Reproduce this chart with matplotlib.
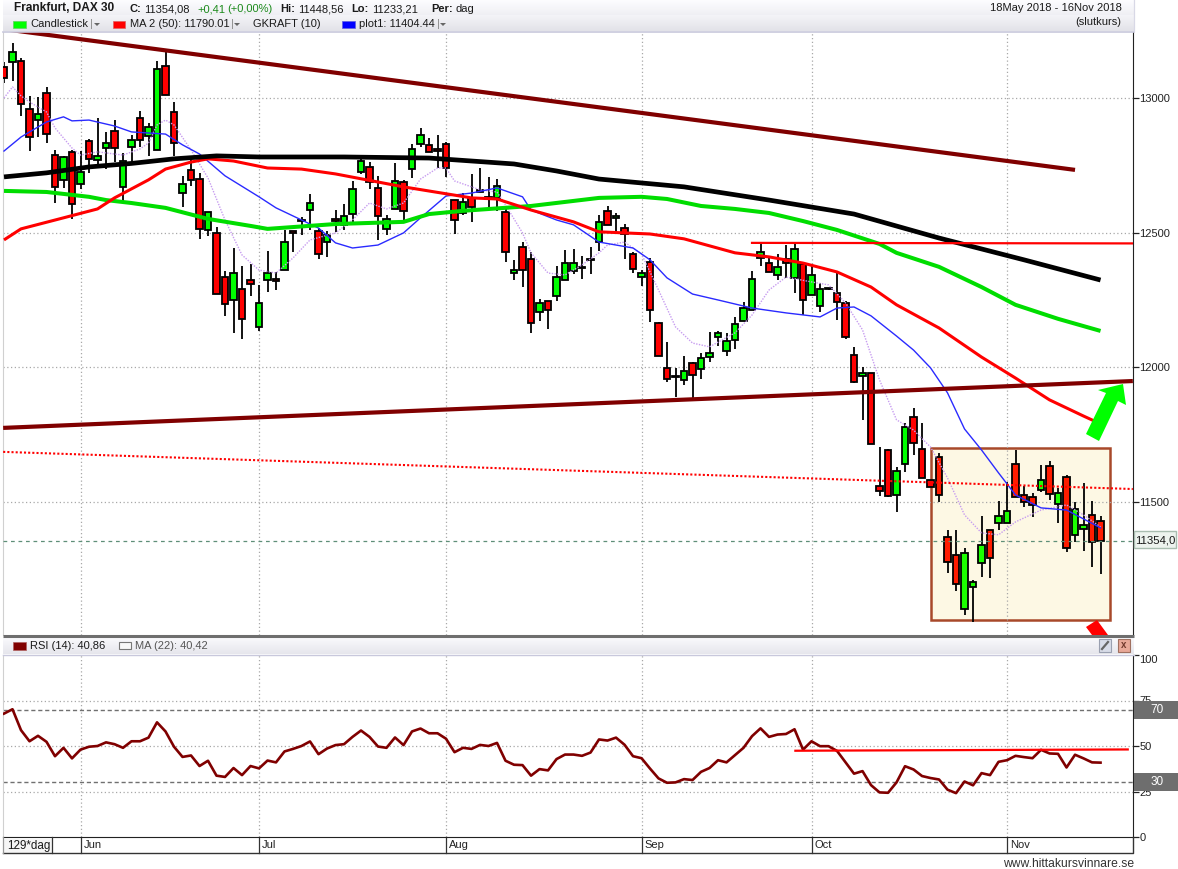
import numpy as np
import matplotlib
matplotlib.use("Agg")
import matplotlib.pyplot as plt
from matplotlib.patches import Polygon, Rectangle

plt.rcParams['font.family'] = ['Liberation Sans', 'DejaVu Sans']

# ---------- data ----------
OPEN = [13115,13134,13137,12959,12918,13019,12788,12696,12800,12681,12840,12770,12814,12878,12670,12818,12926,12859,12807,13119,
        12948,12647,12733,12699,12510,12499,12336,12250,12291,12324,12150,12324,12328,12361,12506,12547,12584,12506,12465,12551,
        12529,12569,12725,12744,12666,12514,12588,12688,12736,12829,12826,12811,12829,12621,12573,12629,12659,12625,12629,12577,
        12350,12447,12402,12206,12246,12265,12324,12358,12369,12399,12465,12580,12555,12517,12421,12336,12391,12165,11998,11964,
        11953,12016,11994,12038,12113,12061,12102,12172,12213,12406,12387,12343,12402,12332,12384,12269,12228,12291,12276,12239,
        12046,11968,11979,11560,11693,11526,11641,11816,11697,11582,11667,11370,11303,11103,11184,11274,11396,11422,11422,11641,
        11526,11519,11545,11634,11493,11593,11378,11400,11452,11429]
HIGH = [13134,13204,13149,13007,13004,13041,12807,12785,12807,12803,12848,12926,12874,12918,12796,12863,12952,12907,13137,13171,
        12985,12711,12770,12722,12577,12521,12358,12443,12376,12384,12306,12432,12354,12510,12506,12558,12644,12517,12506,12584,
        12607,12692,12788,12762,12711,12566,12759,12696,12829,12889,12852,12863,12837,12621,12647,12718,12740,12707,12699,12592,
        12399,12465,12428,12254,12246,12376,12436,12439,12414,12447,12566,12599,12573,12532,12428,12361,12406,12168,12094,11998,
        12042,12020,12053,12131,12135,12128,12187,12243,12358,12458,12410,12421,12454,12458,12391,12376,12313,12295,12350,12246,
        12076,12001,11979,11704,11697,11630,11793,11849,11793,11582,11682,11396,11396,11329,11210,11448,11396,11504,11574,11693,
        11560,11533,11637,11652,11552,11600,11500,11571,11504,11449]
LOW = [13056,13063,12933,12803,12855,12833,12610,12666,12551,12662,12722,12755,12736,12762,12614,12759,12818,12785,12807,13011,
       12785,12595,12673,12477,12488,12272,12191,12128,12105,12265,12135,12280,12287,12361,12428,12491,12510,12402,12410,12503,
       12510,12536,12718,12662,12473,12491,12588,12547,12703,12818,12800,12740,12707,12495,12566,12540,12651,12595,12581,12391,
       12324,12298,12128,12172,12142,12246,12324,12347,12328,12347,12432,12529,12503,12402,12350,12302,12168,12042,11946,11890,
       11934,11879,11957,12020,12079,12042,12068,12172,12213,12376,12354,12324,12332,12276,12194,12269,12206,12287,12176,12105,
       11942,11805,11715,11522,11519,11463,11611,11675,11589,11556,11500,11236,11170,11080,11054,11222,11218,11396,11422,11519,
       11481,11444,11537,11507,11422,11314,11352,11318,11259,11233]
CLOSE = [13074,13171,12978,12855,12941,12866,12670,12781,12607,12725,12774,12785,12833,12814,12766,12844,12844,12892,13108,13011,
         12833,12681,12696,12514,12577,12272,12235,12350,12180,12309,12239,12350,12321,12465,12499,12543,12610,12421,12491,12543,
         12562,12662,12766,12688,12562,12551,12692,12580,12811,12863,12800,12803,12740,12547,12614,12595,12651,12633,12673,12428,
         12361,12361,12165,12239,12213,12336,12387,12387,12369,12399,12540,12529,12562,12495,12365,12350,12213,12042,11957,11964,
         11986,11972,12035,12053,12128,12098,12161,12220,12328,12428,12354,12373,12387,12439,12250,12343,12291,12291,12243,12113,
         11946,11979,11715,11541,11522,11615,11778,11719,11589,11556,11526,11277,11196,11311,11203,11340,11292,11448,11467,11519,
         11500,11489,11582,11530,11533,11329,11474,11415,11352,11354]

MA200_IDX = [0,5,10,15,20,25,30,40,50,55,60,65,70,80,90,100,110,120,129]
MA200_VAL = [12707,12722,12744,12757,12774,12785,12781,12781,12777,12766,12755,12729,12699,12670,12621,12569,12480,12399,12324]
MA100_IDX = [0,5,10,12,15,19,24,29,31,39,47,50,54,62,70,75,78,82,86,90,94,98,103,105,110,115,119,124,129]
MA100_VAL = [12655,12651,12633,12621,12610,12592,12551,12525,12514,12532,12540,12569,12581,12599,12629,12633,12625,12599,12588,12573,12543,12510,12458,12425,12373,12298,12232,12180,12135]
MA50_IDX = [0,2,7,11,13,17,19,22,24,27,31,35,39,47,55,58,62,67,70,76,80,86,90,94,98,102,105,110,115,119,123,127,129]
MA50_VAL = [12473,12514,12555,12588,12629,12696,12736,12762,12774,12766,12740,12736,12718,12670,12629,12625,12584,12540,12503,12495,12477,12425,12410,12387,12354,12298,12232,12146,12038,11960,11879,11819,11790]
PLOT1_IDX = [0,2,5,7,8,10,13,15,19,21,23,26,30,32,34,37,39,41,44,47,49,52,55,58,61,62,65,67,70,74,76,78,81,84,88,92,96,98,100,102,105,107,109,111,113,115,117,119,122,125,129]
PLOT1_VAL = [12803,12855,12911,12930,12915,12918,12896,12874,12866,12826,12792,12711,12633,12592,12562,12517,12462,12443,12454,12499,12555,12636,12647,12666,12633,12584,12547,12529,12465,12443,12399,12332,12272,12250,12220,12202,12187,12220,12224,12191,12116,12064,11998,11905,11771,11693,11608,11526,11478,11470,11404]
GKRAFT_IDX = [0,1,2,3,5,6,8,9,11,14,16,17,18,19,20,22,24,26,28,30,32,34,36,39,41,43,45,47,49,51,52,53,56,58,59,61,62,64,66,68,70,71,73,75,77,79,81,83,86,88,90,92,95,97,99,101,103,105,107,109,111,113,115,117,119,122,125,127,129]
GKRAFT_VAL = [13000,13041,13008,12985,12948,12889,12814,12788,12800,12788,12811,12833,12900,12918,12900,12807,12703,12547,12417,12361,12350,12406,12473,12499,12547,12610,12588,12610,12699,12740,12740,12692,12659,12651,12603,12499,12425,12350,12343,12380,12425,12454,12465,12421,12287,12150,12090,12076,12128,12194,12287,12335,12317,12306,12239,12139,11953,11805,11767,11704,11589,11452,11385,11378,11426,11470,11489,11452,11407]
RSI = [67.8,70.2,58.7,52.6,55.6,52.3,44.4,49,43.2,48,49.6,50,52,51,49,52.6,52.6,54.6,63,58,
       49.6,44,44.8,39,41.9,33.7,33,37.9,34,39,37.7,42,41,47,48.4,50,52.5,45.5,48.6,50.5,
       51,55,58.5,55,49.7,49,54.7,50.5,58,59.6,57,57,54,46.6,49,48.4,50.6,50,51.7,41.9,
       39.7,39.5,33.7,37.3,36.6,42.8,45.3,45.3,44.6,46.4,53.6,53,54.6,50.7,44.4,43.3,37.6,32.2,29.8,30,
       31.8,31.3,35.8,37.9,42.2,41,45,49,55.4,59.7,55,56.3,56.6,59.2,48,52.6,49.9,49.9,47.3,41,
       34.8,36.2,28.5,24.5,24.3,30,38.9,37.1,33.5,32.4,31.6,26,24.1,30.5,28.4,35.1,34,41.3,42.2,44.6,
       43.9,43.3,47.9,45.9,45.7,38.2,45.2,43.2,41,40.86]
LAST_CLOSE = 11354

TREND_UP_IDX, TREND_UP_VAL = [-0.1, 126], [13256, 12733]
TREND_LOW_IDX, TREND_LOW_VAL = [-0.1, 132.8], [11775, 11949]
TREND_DOT_IDX, TREND_DOT_VAL = [-0.1, 132.8], [11686, 11548]
RES_IDX, RES_VAL = [88, 132.8], [12462, 12460]
RSI_RES_IDX, RSI_RES_VAL = [93.1, 132.2], [47.4, 48.1]
BOX_IDX, BOX_VAL = [109.06, 130.1], [11062, 11700]

MONTH_IDX = [9, 30, 52, 75, 95, 118]
MONTH_LABELS = ['Jun', 'Jul', 'Aug', 'Sep', 'Oct', 'Nov']
PRICE_TICKS = [11500, 12000, 12500, 13000]
RSI_TICKS = [0, 25, 50, 75, 100]
RSI_BANDS = [30, 70]

# ---------- layout ----------
W, H = 1178, 869
fig = plt.figure(figsize=(W/100, H/100), dpi=100, facecolor='white')

def box(l, t, r, b):
    return [l/W, 1-b/H, (r-l)/W, (b-t)/H]

ax = fig.add_axes(box(3, 32, 1133, 635))
rs = fig.add_axes(box(3, 655, 1133, 837))
ov = fig.add_axes([0, 0, 1, 1], zorder=10)
ov.patch.set_alpha(0)
ov.axis('off')

XLIM = (-0.118, 132.82)
GRID = dict(color='#a8a8a8', lw=0.9, ls=(0, (1, 2)), zorder=1)
FS = 8

# ---------- main panel ----------
ax.set_xlim(*XLIM)
ax.set_ylim(11006, 13245)
idx = np.arange(len(OPEN))
o, h, l, c = map(np.array, (OPEN, HIGH, LOW, CLOSE))

ax.add_patch(Rectangle((BOX_IDX[0], BOX_VAL[0]), BOX_IDX[1]-BOX_IDX[0], BOX_VAL[1]-BOX_VAL[0],
                       fc='#fdf8e4', ec='#a8492a', lw=1.8, zorder=0.5))
for v in PRICE_TICKS:
    ax.axhline(v, **GRID)
for m in MONTH_IDX:
    ax.axvline(m, **GRID)

inside = (idx > BOX_IDX[0]) & (idx < BOX_IDX[1])
colors = []
for i in idx:
    up = c[i] >= o[i]
    if inside[i]:
        colors.append('#1cff00' if up else '#ff1c00')
    else:
        colors.append('#00ff00' if up else '#ff0000')
ax.vlines(idx, l, h, color='black', lw=1.3, zorder=2)
ax.bar(idx, np.maximum(np.abs(c-o), 2), bottom=np.minimum(o, c), width=0.8,
       color=colors, edgecolor='black', lw=1.3, zorder=3)

ax.plot(GKRAFT_IDX, GKRAFT_VAL, color='#c79cf0', lw=1.0, ls=(0, (1, 1)), zorder=4)
ax.plot(PLOT1_IDX, PLOT1_VAL, color='#2a2aff', lw=1.0, zorder=4)
ax.plot(MA100_IDX, MA100_VAL, color='#00dd00', lw=2.9, zorder=5, solid_capstyle='butt')
ax.plot(MA50_IDX, MA50_VAL, color='#ff0000', lw=2.2, zorder=5, solid_capstyle='butt')
ax.plot(MA200_IDX, MA200_VAL, color='black', lw=3.4, zorder=5, solid_capstyle='butt')
ax.plot(TREND_UP_IDX, TREND_UP_VAL, color='#800000', lw=3.0, zorder=6, solid_capstyle='butt')
ax.plot(TREND_LOW_IDX, TREND_LOW_VAL, color='#800000', lw=3.0, zorder=6, solid_capstyle='butt')
ax.plot(TREND_DOT_IDX, TREND_DOT_VAL, color='#ff0000', lw=1.5, ls=(0, (1, 1)), zorder=6)
ax.plot(RES_IDX, RES_VAL, color='#ff0000', lw=1.6, zorder=6)
ax.axhline(LAST_CLOSE, color='#5f8f78', lw=0.9, ls=(0, (3, 3)), zorder=6)

ax.yaxis.tick_right()
ax.set_yticks(PRICE_TICKS)
ax.set_yticklabels([str(v) for v in PRICE_TICKS], fontsize=FS)
ax.tick_params(axis='y', length=4, width=0.9, pad=0.5, color='#222222', labelcolor='#222222')
ax.set_xticks([])
for s in ('top', 'bottom'):
    ax.spines[s].set_visible(False)
ax.spines['left'].set_color('#d0d0d0')
ax.spines['right'].set_color('#222222')

# ---------- RSI panel ----------
rs.set_xlim(*XLIM)
rs.set_ylim(0, 100)
for v in RSI_TICKS[1:-1]:
    rs.axhline(v, **GRID)
for m in MONTH_IDX:
    rs.axvline(m, **GRID)
for v in RSI_BANDS:
    rs.axhline(v, color='#707070', lw=1.0, ls=(0, (3, 2)), zorder=1.5)
rs.plot(np.arange(len(RSI)), RSI, color='#800000', lw=1.9, zorder=4)
rs.plot(RSI_RES_IDX, RSI_RES_VAL, color='#ff0000', lw=1.6, zorder=5)
rs.yaxis.tick_right()
rs.set_yticks(RSI_TICKS)
rs.set_yticklabels([str(v) for v in RSI_TICKS], fontsize=FS)
rs.get_yticklabels()[-1].set_va('top')
rs.tick_params(axis='y', length=4, width=0.9, pad=0.5, color='#222222', labelcolor='#222222')
rs.set_xticks([])
rs.spines['top'].set_visible(False)
rs.spines['left'].set_color('#d0d0d0')
rs.spines['right'].set_color('#222222')
rs.spines['bottom'].set_color('#222222')
for m, lab in zip(MONTH_IDX, MONTH_LABELS):
    rs.annotate(lab, (m, 0), xytext=(3, -3), textcoords='offset pixels', fontsize=FS,
                color='#222222', va='top', ha='left', annotation_clip=False)
    rs.plot([m, m], [0, -16*100/182], color='#333333', lw=0.9, clip_on=False)

# ---------- chrome (page furniture, in pixel coordinates) ----------
ov.set_xlim(0, W)
ov.set_ylim(H, 0)

def grad(l, t, r, b, c0, c1, zorder=1):
    g = np.linspace(0, 1, 32)[:, None, None]
    rgb0, rgb1 = np.array(matplotlib.colors.to_rgb(c0)), np.array(matplotlib.colors.to_rgb(c1))
    img = rgb0*(1-g) + rgb1*g
    ov.imshow(img, extent=(l, r, b, t), aspect='auto', zorder=zorder, interpolation='bilinear')

grad(3, 0, 1134, 15, '#fdfdff', '#efeff4')
grad(3, 15, 1134, 31, '#f4f4f8', '#e2e2e8')
ov.plot([3, 1134], [31.5, 31.5], color='#c8c8dc', lw=1.2, zorder=2)
ov.plot([1134, 1134], [0, 31], color='#d8d8e6', lw=0.9, zorder=2)
grad(3, 637, 1134, 654, '#fafafd', '#e6e6ec')
ov.plot([3, 1134], [636, 636], color='#6e6e6e', lw=2.2, zorder=2, solid_capstyle='butt')
ov.plot([3, 1134], [654.5, 654.5], color='#c8c8dc', lw=1.0, zorder=2)
ov.set_xlim(0, W)
ov.set_ylim(H, 0)

def t(x, y, s, **kw):
    kw.setdefault('fontsize', FS)
    kw.setdefault('color', '#1a1a1a')
    kw.setdefault('va', 'center')
    ov.text(x, y, s, zorder=8, **kw)

t(14, 8, 'Frankfurt, DAX 30', fontweight='bold', fontsize=8.6)
t(130, 9, 'C:', fontweight='bold')
t(144, 9, '11354,08')
t(197, 9, '+0,41', color='#1b8a1b')
t(227, 9, '(+0,00%)', color='#1b8a1b')
t(280, 9, 'Hi:', fontweight='bold')
t(298, 9, '11448,56')
t(351, 9, 'Lo:', fontweight='bold')
t(372, 9, '11233,21')
t(431, 9, 'Per:', fontweight='bold')
t(455, 9, 'dag')
t(1122, 8, '18May 2018 - 16Nov 2018', ha='right')
t(1121, 22, '(slutkurs)', ha='right')

ov.add_patch(Rectangle((13, 21), 13, 7, fc='#00ff00', ec='#60d060', lw=0.5, zorder=7))
t(30, 24, 'Candlestick')
t(90, 24, '|', color='#888888')
ov.add_patch(Polygon([(94, 23), (100, 23), (97, 26)], fc='#666666', ec='none', zorder=7))
ov.add_patch(Rectangle((113, 21), 12, 7, fc='#ff0000', ec='#e06060', lw=0.5, zorder=7))
t(130, 24, 'MA 2 (50): 11790.01')
t(231, 24, '|', color='#888888')
ov.add_patch(Polygon([(234, 23), (240, 23), (237, 26)], fc='#666666', ec='none', zorder=7))
t(253, 24, 'GKRAFT (10)')
ov.add_patch(Rectangle((342, 21), 13, 7, fc='#0000ff', ec='#6060e0', lw=0.5, zorder=7))
t(359, 24, 'plot1: 11404.44')
t(437, 24, '|', color='#888888')
ov.add_patch(Polygon([(440, 23), (446, 23), (443, 26)], fc='#666666', ec='none', zorder=7))

ov.add_patch(Rectangle((13, 642), 13, 8, fc='#800000', ec='#b06060', lw=0.5, zorder=7))
t(30, 646, 'RSI (14): 40,86')
ov.add_patch(Rectangle((119, 642), 12, 7, fc='#f8f8f8', ec='#777777', lw=0.8, zorder=7))
t(135, 646, 'MA (22): 40,42', color='#555555')
ov.add_patch(Rectangle((1099, 639), 12, 13, fc='#d8dce8', ec='#9aa0b0', lw=0.8, zorder=7))
ov.plot([1102, 1108], [649, 642], color='#666666', lw=1.6, zorder=8)
ov.add_patch(Rectangle((1118, 639), 12, 13, fc='#e8a898', ec='#a07060', lw=0.8, zorder=7))
t(1124, 645.5, 'x', ha='center', fontsize=7, color='#70382c', fontweight='bold')

# price box and RSI band boxes
ov.add_patch(Rectangle((1134, 531), 42, 17, fc='#edf3ee', ec='#a9bdb0', lw=1.0, zorder=7))
t(1155, 540.5, '11354,0', ha='center', fontsize=8.2)
for y0, s in ((701, '70'), (773, '30')):
    ov.add_patch(Rectangle((1134, y0), 44, 18, fc='#6e6e6e', ec='none', zorder=7))
    t(1157, y0+9, s, ha='center', color='white', fontsize=8.5)

# bottom time axis frame
ov.add_patch(Rectangle((3, 838), 49, 15, fc='#f6f6f6', ec='none', zorder=1.5))
ov.plot([3, 1133, 1133], [853, 853, 837], color='#333333', lw=1.0, zorder=2)
ov.plot([3, 3], [837, 853], color='#999999', lw=0.9, zorder=2)
ov.plot([52, 52], [837, 853], color='#333333', lw=0.9, zorder=2)
t(7, 845.5, '129*dag', fontsize=8.4)
t(1134, 864, 'www.hittakursvinnare.se', ha='right', color='#333333', fontsize=8.7)

# hand-drawn arrows
ov.add_patch(Polygon([(1086, 434), (1106, 393), (1098, 390), (1123, 384), (1126, 405), (1118, 401), (1099, 441)],
                     fc='#00ff00', ec='none', zorder=7))
ov.add_patch(Polygon([(1086, 627), (1097, 620), (1108, 635), (1092, 635)], fc='#ff0000', ec='none', zorder=7))

fig.savefig('out.png', dpi=100, facecolor='white')
